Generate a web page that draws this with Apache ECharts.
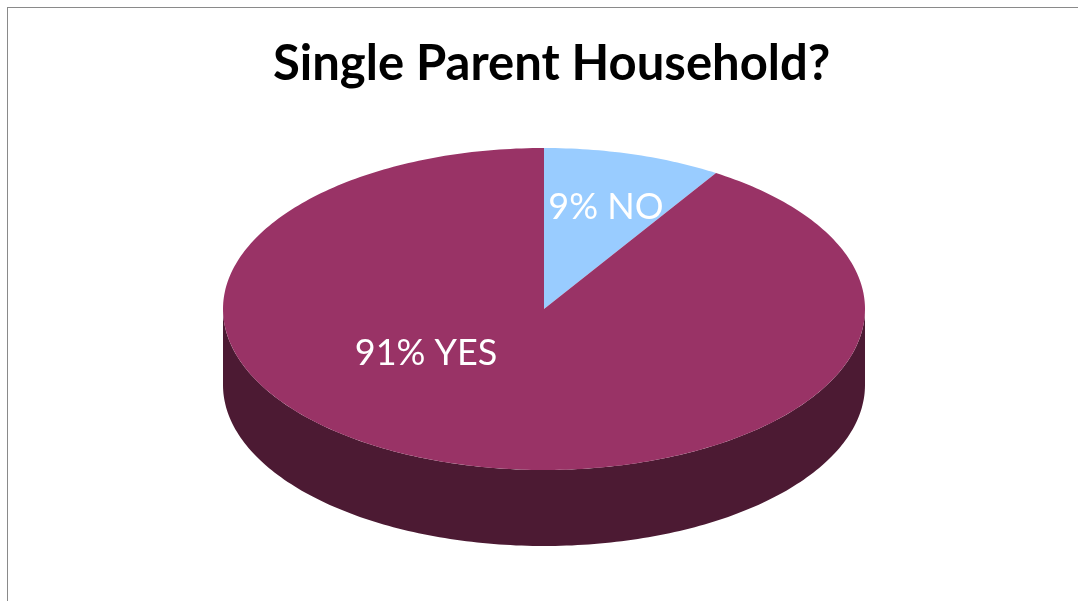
<!DOCTYPE html>
<html>
<head>
<meta charset="utf-8">
<script src="https://cdn.jsdelivr.net/npm/echarts@6/dist/echarts.min.js"></script>
<style>
html, body { margin: 0; padding: 0; background: #fff; overflow: hidden; }
#main { width: 1078px; height: 601px; }
#frame { position: absolute; left: 7px; top: 7px; width: 1200px; height: 700px;
         border-left: 1px solid #8a8a8a; border-top: 1px solid #8a8a8a; pointer-events: none; }
</style>
</head>
<body>
<div id="main"></div>
<div id="frame"></div>
<script>
var categories = ['NO', 'YES'];
var values = [9, 91];
var topColors = ['#99ccff', '#993366'];
var sideColors = ['#3d6680', '#4c1a33'];
// where each label sits: [angle from 12 o'clock, fraction of radius]
var labelSpots = [[17, 0.66], [233, 0.46]];

var total = values.reduce(function (a, b) { return a + b; }, 0);
var starts = [];
var acc = 0;
values.forEach(function (v) { starts.push(acc / total * 360); acc += v; });

// ellipse of the tilted disk
var cx = 544, cy = 309, rx = 321, ry = 161, depth = 76;

function pt(deg, r, dy) {
    var a = deg * Math.PI / 180;
    return [cx + rx * r * Math.sin(a), cy - ry * r * Math.cos(a) + (dy || 0)];
}
function arc(a0, a1, dy) {
    var pts = [];
    var n = Math.max(2, Math.ceil(a1 - a0));
    for (var i = 0; i <= n; i++) {
        pts.push(pt(a0 + (a1 - a0) * i / n, 1, dy));
    }
    return pts;
}

var chart = echarts.init(document.getElementById('main'));
var option = {
    animation: false,
    title: {
        text: 'Single Parent Household?',
        left: 268,
        top: 35,
        textStyle: { fontFamily: 'Lato', fontWeight: 'bold', fontSize: 49, color: '#000' }
    },
    series: [
        {
            type: 'custom',
            coordinateSystem: 'none',
            data: values.map(function (v, i) { return { value: v, name: categories[i] }; }),
            renderItem: function (params, api) {
                var i = params.dataIndex;
                var v = api.value(0);
                var a0 = starts[i], a1 = a0 + v / total * 360;
                var children = [];
                // front wall, only the half facing us
                var s = Math.max(a0, 90), e = Math.min(a1, 270);
                if (e > s) {
                    var upper = arc(s, e, 0), lower = arc(s, e, depth).reverse();
                    children.push({
                        type: 'polygon', z2: 1,
                        shape: { points: upper.concat(lower) },
                        style: { fill: sideColors[i] }
                    });
                }
                // top face
                children.push({
                    type: 'polygon', z2: 5,
                    shape: { points: [[cx, cy]].concat(arc(a0, a1, 0)) },
                    style: { fill: topColors[i] }
                });
                var lp = pt(labelSpots[i][0], labelSpots[i][1]);
                children.push({
                    type: 'text', z2: 10, x: lp[0], y: lp[1],
                    style: {
                        text: Math.round(v / total * 100) + '% ' + categories[i],
                        fill: '#fff', font: '36px Lato', align: 'center', verticalAlign: 'middle'
                    }
                });
                return { type: 'group', children: children };
            }
        }
    ]
};
chart.setOption(option);
window.addEventListener('resize', function () {
    chart.resize();
});
</script>
</body>
</html>
